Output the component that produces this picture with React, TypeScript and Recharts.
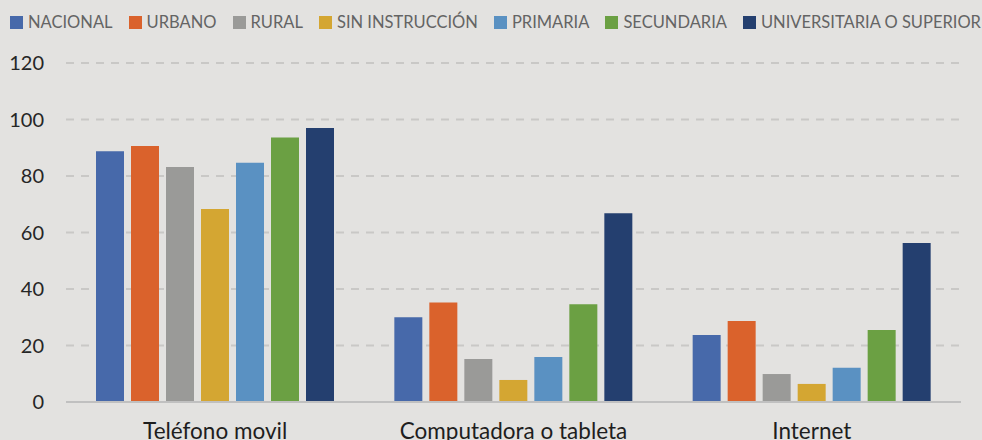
import React from "react";
import { BarChart, Bar, XAxis, YAxis, CartesianGrid, Legend } from "recharts";

const categories = ["Teléfono movil", "Computadora o tableta", "Internet"];
const seriesNames = ["NACIONAL", "URBANO", "RURAL", "SIN INSTRUCCIÓN", "PRIMARIA", "SECUNDARIA", "UNIVERSITARIA O SUPERIOR"];
const seriesKeys = ["nacional", "urbano", "rural", "sinInstruccion", "primaria", "secundaria", "universitaria"];
const seriesColors = ["#4769AA", "#DA622C", "#9A9A98", "#D4A632", "#5A91C2", "#6BA043", "#243F6F"];

const nacional = [88.8, 30.0, 23.7];
const urbano = [90.6, 35.2, 28.7];
const rural = [83.2, 15.2, 9.9];
const sinInstruccion = [68.3, 7.8, 6.4];
const primaria = [84.7, 15.9, 12.1];
const secundaria = [93.6, 34.6, 25.5];
const universitaria = [97.0, 66.8, 56.3];

const yTicks = [0, 20, 40, 60, 80, 100, 120];

const seriesValues = [nacional, urbano, rural, sinInstruccion, primaria, secundaria, universitaria];

const data = categories.map((name, i) => {
  const row: Record<string, string | number> = { name };
  seriesKeys.forEach((k, s) => {
    row[k] = seriesValues[s][i];
  });
  return row;
});

const LegendContent = () => (
  <div
    style={{
      display: "flex",
      alignItems: "center",
      justifyContent: "space-between",
      height: 30,
      paddingLeft: 10,
      paddingRight: 1,
      boxSizing: "border-box",
      width: 982,
      fontFamily: "Lato",
      fontSize: 16.5,
      color: "#646464",
      whiteSpace: "nowrap",
    }}
  >
    {seriesNames.map((n, i) => (
      <div key={n} style={{ display: "flex", alignItems: "center" }}>
        <div style={{ width: 13, height: 13, background: seriesColors[i], marginRight: 5 }} />
        <span>{n}</span>
      </div>
    ))}
  </div>
);

export default function App() {
  return (
    <div style={{ position: "fixed", left: 0, top: 0, width: 982, height: 440, background: "#E3E2E0" }}>
      <BarChart
        width={982}
        height={440}
        data={data}
        margin={{ top: 33, right: 21, left: 0, bottom: 0 }}
        barCategoryGap={30}
        barGap={7}
      >
        <Legend
          verticalAlign="top"
          align="left"
          content={LegendContent}
          wrapperStyle={{ top: 7, left: 0, width: 982, height: 30 }}
        />
        <CartesianGrid vertical={false} stroke="#C9C8C6" strokeWidth={2} strokeDasharray="8 7" />
        <XAxis
          dataKey="name"
          axisLine={{ stroke: "#C0C0C0", strokeWidth: 2 }}
          tickLine={false}
          tickMargin={15}
          height={38}
          interval={0}
          tick={{ fontFamily: "Lato", fontSize: 22.5, fill: "#1E1E1E" }}
        />
        <YAxis
          width={66}
          domain={[0, 120]}
          ticks={yTicks}
          axisLine={false}
          tickLine={false}
          tickMargin={16}
          tick={{ fontFamily: "Lato", fontSize: 20, fill: "#262626" }}
        />
        {seriesKeys.map((k, i) => (
          <Bar key={k} dataKey={k} name={seriesNames[i]} fill={seriesColors[i]} isAnimationActive={false} />
        ))}
      </BarChart>
    </div>
  );
}
